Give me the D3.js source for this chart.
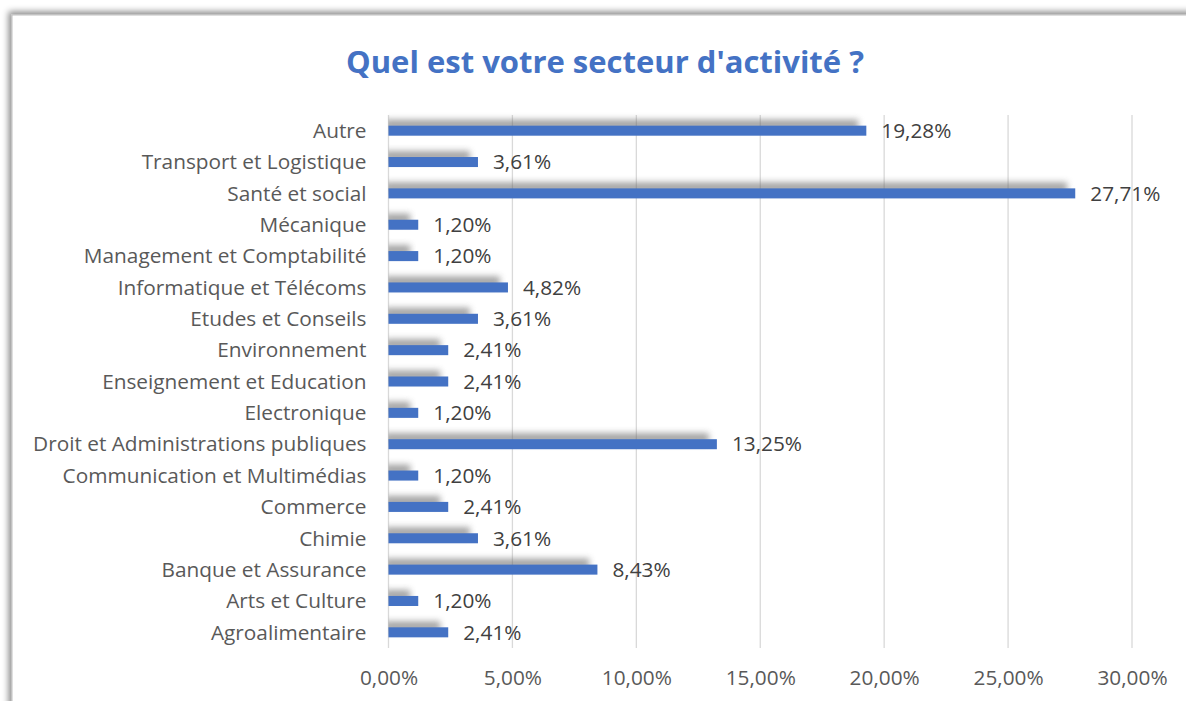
<!DOCTYPE html>
<html>
<head>
<meta charset="utf-8">
<script src="https://cdn.jsdelivr.net/npm/d3@7"></script>
<style>
  body { margin: 0; background: #fff; }
  svg { display: block; }
</style>
</head>
<body>
<div id="chart"></div>
<script>
// categories, bottom to top as in the source sheet
var categories = ["Agroalimentaire", "Arts et Culture", "Banque et Assurance", "Chimie", "Commerce",
  "Communication et Multimédias", "Droit et Administrations publiques", "Electronique",
  "Enseignement et Education", "Environnement", "Etudes et Conseils", "Informatique et Télécoms",
  "Management et Comptabilité", "Mécanique", "Santé et social", "Transport et Logistique", "Autre"];
var values = [2.41, 1.20, 8.43, 3.61, 2.41, 1.20, 13.25, 1.20, 2.41, 2.41, 3.61, 4.82, 1.20, 1.20, 27.71, 3.61, 19.28];
var tickValues = [0, 5, 10, 15, 20, 25, 30];
var title = "Quel est votre secteur d'activité ?";

var w = 1186, h = 701;
var margin = {top: 115, left: 388.5, right: 54, bottom: 53};
var font = "'Open Sans', sans-serif";
var fontSize = 20.8;

var fmt = function(v){ return v.toFixed(2).replace(".", ",") + "%"; };

var svg = d3.select("#chart").append("svg")
  .attr("width", w).attr("height", h);

var defs = svg.append("defs");

var frameShadow = defs.append("filter").attr("id", "frameShadow")
  .attr("x", "-5%").attr("y", "-5%").attr("width", "110%").attr("height", "110%");
frameShadow.append("feDropShadow")
  .attr("dx", -3).attr("dy", -3).attr("stdDeviation", 3)
  .attr("flood-color", "#000").attr("flood-opacity", 0.45);

var barBlur = defs.append("filter").attr("id", "barBlur")
  .attr("x", "-20%").attr("y", "-100%").attr("width", "140%").attr("height", "300%");
barBlur.append("feGaussianBlur").attr("stdDeviation", 3);

// chart frame
svg.append("rect")
  .attr("x", 12).attr("y", 15)
  .attr("width", w + 40).attr("height", h + 40)
  .attr("fill", "#fff")
  .attr("stroke", "#bfbfbf")
  .attr("filter", "url(#frameShadow)");

svg.append("text")
  .attr("x", 605).attr("y", 73)
  .attr("text-anchor", "middle")
  .attr("font-family", font)
  .attr("font-weight", "bold")
  .attr("font-size", 31)
  .attr("fill", "#4472c4")
  .text(title);

var x = d3.scaleLinear().domain([0, 30]).range([margin.left, w - margin.right]);
var y = d3.scaleBand().domain(categories.slice().reverse())
  .range([margin.top, h - margin.bottom]).paddingInner(0.68).paddingOuter(0.34);

// gridlines
svg.append("g").selectAll("line")
  .data(tickValues).enter().append("line")
  .attr("x1", function(d){ return x(d); })
  .attr("x2", function(d){ return x(d); })
  .attr("y1", margin.top).attr("y2", h - margin.bottom)
  .attr("stroke", "#d9d9d9").attr("stroke-width", 1.3);

// tick labels
var xAxis = d3.axisBottom(x).tickValues(tickValues).tickSize(0).tickPadding(0)
  .tickFormat(function(d){ return fmt(d); });
var gx = svg.append("g").attr("transform", "translate(0," + (h - margin.bottom) + ")").call(xAxis);
gx.select(".domain").remove();
gx.selectAll("text")
  .attr("dy", "1.8em")
  .attr("font-family", font)
  .attr("font-size", fontSize)
  .attr("fill", "#595959");

// category labels
var yAxis = d3.axisLeft(y).tickSize(0).tickPadding(22);
var gy = svg.append("g").attr("transform", "translate(" + margin.left + ",0)").call(yAxis);
gy.select(".domain").remove();
gy.selectAll("text")
  .attr("dy", "0.35em")
  .attr("font-family", font)
  .attr("font-size", fontSize)
  .attr("fill", "#595959");

var data = categories.map(function(c, i){ return {cat: c, val: values[i]}; });

defs.append("clipPath").attr("id", "plotClip")
  .append("rect").attr("x", margin.left).attr("y", 0)
  .attr("width", w).attr("height", h);

// soft shadow above each bar
svg.append("g").attr("clip-path", "url(#plotClip)")
  .selectAll("rect").data(data).enter().append("rect")
  .attr("x", x(0) - 4)
  .attr("y", function(d){ return y(d.cat) - 6; })
  .attr("width", function(d){ return Math.max(0, x(d.val) - x(0) - 4); })
  .attr("height", y.bandwidth())
  .attr("fill", "#666")
  .attr("opacity", 0.6)
  .attr("filter", "url(#barBlur)");

svg.append("g").selectAll("rect")
  .data(data).enter().append("rect")
  .attr("x", x(0))
  .attr("y", function(d){ return y(d.cat); })
  .attr("width", function(d){ return x(d.val) - x(0); })
  .attr("height", y.bandwidth())
  .attr("fill", "#4472c4");

svg.append("g").selectAll("text")
  .data(data).enter().append("text")
  .attr("x", function(d){ return x(d.val) + 15; })
  .attr("y", function(d){ return y(d.cat) + y.bandwidth() / 2; })
  .attr("dy", "0.35em")
  .attr("font-family", font)
  .attr("font-size", fontSize)
  .attr("fill", "#404040")
  .text(function(d){ return fmt(d.val); });
</script>
</body>
</html>
